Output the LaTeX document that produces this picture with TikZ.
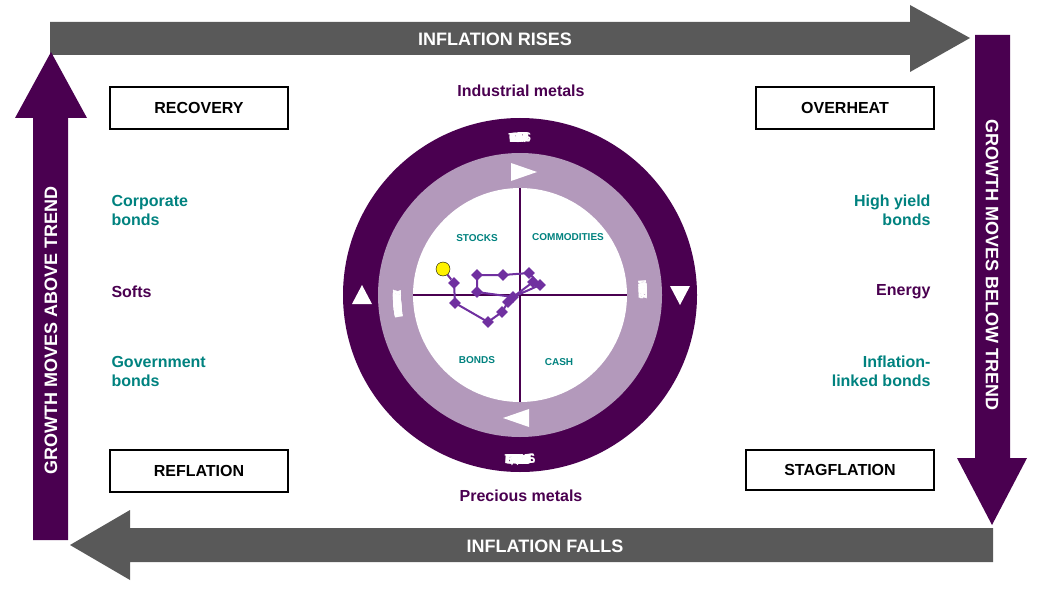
\documentclass[tikz,border=0pt]{standalone}
\usepackage{fontspec}
\setmainfont{Liberation Sans}
\usetikzlibrary{shapes.geometric}
\definecolor{dpur}{HTML}{4A0050}
\definecolor{lpur}{HTML}{B399BB}
\definecolor{mpur}{HTML}{7030A0}
\definecolor{gry}{HTML}{595959}
\definecolor{tealc}{HTML}{00827F}
\newlength\mycw
\newcommand\arctext[5]{%
 \gdef\mytot{0}%
 \foreach \c in {#5}{\settowidth\mycw{\fontsize{#4}{#4}\selectfont\bfseries\c}\pgfmathsetmacro\myt{\mytot+\mycw+0.6}\global\let\mytot\myt}%
 \gdef\myacc{0}%
 \foreach \c in {#5}{\settowidth\mycw{\fontsize{#4}{#4}\selectfont\bfseries\c}%
   \pgfmathsetmacro\myang{#2+#3*((\myacc+\mycw/2-\mytot/2)/#1*57.2958)}%
   \node[text=white,font=\fontsize{#4}{#4}\selectfont\bfseries,anchor=base,inner sep=0pt,rotate=\myang+#3*90] at (\myang:#1) {\c};
   \pgfmathsetmacro\myt{\myacc+\mycw+0.6}\global\let\myacc\myt}}
\begin{document}
\begin{tikzpicture}[x=1pt,y=-1pt,
 box/.style={draw=black,line width=1.5pt,minimum width=178pt,minimum height=42pt,font=\bfseries\fontsize{16}{16}\selectfont},
 tl/.style={text=tealc,font=\bfseries\fontsize{16}{19}\selectfont,align=left},
 pl/.style={text=dpur,font=\bfseries\fontsize{16}{19}\selectfont},
 ql/.style={text=tealc,font=\bfseries\fontsize{10}{10}\selectfont},
 dm/.style={diamond,fill=mpur,inner sep=0pt,minimum size=12pt},
 arrtxt/.style={text=white,font=\bfseries\fontsize{18}{18}\selectfont}]
\useasboundingbox (0,0) rectangle (1038,591);
\fill[gry] (50,22) -- (910,22) -- (910,5) -- (970,38) -- (910,72) -- (910,55) -- (50,55) -- cycle;
\node[arrtxt] (ir) at (495,39) {INFLATION RISES};
\fill[gry] (993,528) -- (130,528) -- (130,510) -- (70,545) -- (130,580) -- (130,562) -- (993,562) -- cycle;
\node[arrtxt] (if) at (545,546) {INFLATION FALLS};
\fill[dpur] (33,540) -- (33,118) -- (15,118) -- (51,52) -- (87,118) -- (68,118) -- (68,540) -- cycle;
\node[arrtxt,rotate=90] (ga) at (51,330) {GROWTH MOVES ABOVE TREND};
\fill[dpur] (975,35) -- (1010,35) -- (1010,458) -- (1027,458) -- (992,525) -- (957,458) -- (975,458) -- cycle;
\node[arrtxt,rotate=-90] (gb) at (992,265) {GROWTH MOVES BELOW TREND};
\node[box] (rec) at (199,108) {RECOVERY};
\node[box] (ovh) at (845,108) {OVERHEAT};
\node[box] (ref) at (199,471) {REFLATION};
\node[box,minimum width=188pt,minimum height=40pt] (stg) at (840,470) {STAGFLATION};
\node[pl] (im) at (521,91) {Industrial metals};
\node[pl] (pm) at (521,496) {Precious metals};
\node[tl,anchor=west] (cb) at (108,210) {Corporate\\bonds};
\node[pl,anchor=west] (so) at (108,292) {Softs};
\node[tl,anchor=west] (gvb) at (108,371) {Government\\bonds};
\node[tl,anchor=east,align=right] (hy) at (934,210) {High yield\\bonds};
\node[pl,anchor=east] (en) at (934,292) {Energy};
\node[tl,anchor=east,align=right] (ilb) at (934,371) {Inflation-\\linked bonds};
\begin{scope}[shift={(520,295)},x=1pt,y=1pt]
\fill[dpur] (0,0) circle (177);
\fill[lpur] (0,0) circle (142);
\fill[white] (0,0) circle (107);
\draw[dpur,line width=1.5pt] (-107,0) -- (107,0) (0,107) -- (0,-107);
\fill[white] (-9,132) -- (17,123) -- (-9,114) -- cycle;
\fill[white] (9,-132) -- (-17,-123) -- (9,-114) -- cycle;
\fill[white] (-168,-9) -- (-158,10) -- (-148,-9) -- cycle;
\fill[white] (150,9) -- (160,-10) -- (170,9) -- cycle;
\arctext{153}{90}{-1}{13}{T,E,C,H,N,O,L,O,G,Y,~,{\&},~,I,N,D,U,S,T,R,I,A,L,S}
\arctext{169}{270}{1}{13}{T,E,L,E,C,O,M,{,},~,S,T,A,P,L,E,S,{,},~,H,E,A,L,T,H,C,A,R,E,~,{\&},~,U,T,I,L,I,T,I,E,S}
\arctext{119}{184}{-1}{11.5}{F,I,N,A,N,C,I,A,L,S,~,{\&},~,C,O,N,S,U,M,E,R,~,D,I,S,C,R,E,T,I,O,N,A,R,Y}
\arctext{119}{2}{-1}{11.5}{M,A,T,E,R,I,A,L,S,~,{\&},~,E,N,E,R,G,Y}
\end{scope}
\node[ql] (st) at (477,238) {STOCKS};
\node[ql] (cm) at (568,237) {COMMODITIES};
\node[ql] (bd) at (477,360) {BONDS};
\node[ql] (cs) at (559,362) {CASH};
\node[dm] (d1) at (454,283) {};
\node[dm] (d2) at (455,303) {};
\node[dm] (d3) at (488,322) {};
\node[dm] (d4) at (502,312) {};
\node[dm] (d5) at (508,302) {};
\node[dm] (d6) at (540,285) {};
\node[dm] (d7) at (529,273) {};
\node[dm] (d8) at (503,275) {};
\node[dm] (d9) at (477,275) {};
\node[dm] (d10) at (477,292) {};
\node[dm] (d11) at (513,297) {};
\node[dm] (d12) at (533,282) {};
\draw[mpur,line width=2pt] (d1.center) -- (d2.center) -- (d3.center) -- (d4.center) -- (d5.center) -- (d11.center) -- (d6.center) -- (d7.center) -- (d8.center) -- (d9.center) -- (d10.center) -- (d11.center) -- (d12.center);
\node[circle,fill=yellow,draw=black,inner sep=0pt,minimum size=14pt] (y0) at (443,269) {};
\draw[mpur,line width=2pt] (y0) -- (d1);
\end{tikzpicture}
\end{document}
